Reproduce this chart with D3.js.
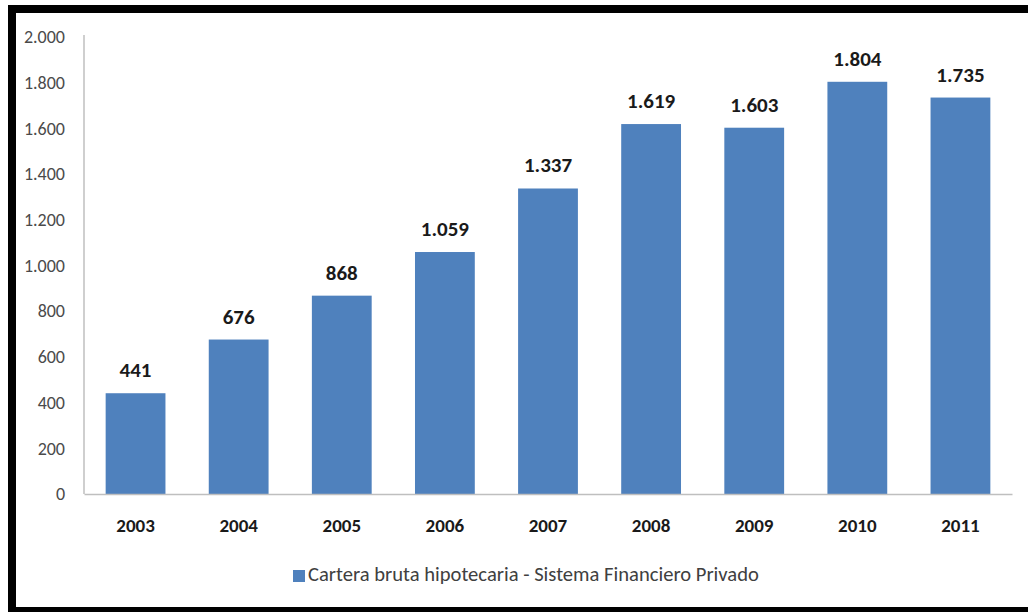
<!DOCTYPE html>
<html><head><meta charset="utf-8">
<script src="https://cdn.jsdelivr.net/npm/d3@7"></script>
<style>body{margin:0;background:#fff}svg{display:block}text{font-family:Carlito,Lato,"Open Sans",sans-serif}</style>
</head><body><svg id="c" width="1028" height="612"></svg>
<script>
const years = ["2003","2004","2005","2006","2007","2008","2009","2010","2011"];
const values = [441,676,868,1059,1337,1619,1603,1804,1735];
const yTicks = [0,200,400,600,800,1000,1200,1400,1600,1800,2000];
const seriesName = "Cartera bruta hipotecaria - Sistema Financiero Privado";

const svg = d3.select("#c");
const loc = d3.formatLocale({decimal:",", thousands:".", grouping:[3], currency:["",""]});
const fmt = loc.format(",d");

// frame
svg.append("rect").attr("x",0).attr("y",0).attr("width",1028).attr("height",612).attr("fill","#fff");
svg.append("rect").attr("x",8).attr("y",5).attr("width",1028).attr("height",8).attr("fill","#000");
svg.append("rect").attr("x",8).attr("y",5).attr("width",8).attr("height",607).attr("fill","#000");
svg.append("rect").attr("x",8).attr("y",607).attr("width",1028).attr("height",5).attr("fill","#000");

const x = d3.scaleBand().domain(years).range([84,1012]).paddingInner(0.42).paddingOuter(0.21);
const y = d3.scaleLinear().domain([0,2000]).range([494,37]);

// bars
svg.append("g").selectAll("rect").data(values).join("rect")
  .attr("x",(d,i)=>x(years[i])).attr("width",x.bandwidth())
  .attr("y",d=>y(d)).attr("height",d=>y(0)-y(d))
  .attr("fill","#4f81bd");

// y axis
const ya = svg.append("g").attr("transform","translate(84,0)")
  .call(d3.axisLeft(y).tickValues(yTicks).tickFormat(fmt).tickSize(0).tickPadding(19));
ya.select(".domain").attr("stroke","#bfbfbf").attr("stroke-width",1.5).attr("d","M0,35V494");
ya.selectAll("text").attr("font-size",18).attr("fill","#4a4a4a").attr("font-family","Carlito,Lato,sans-serif");

// x axis
const xa = svg.append("g").attr("transform","translate(0,494)")
  .call(d3.axisBottom(x).tickSize(0).tickPadding(25));
xa.select(".domain").attr("stroke","#bfbfbf").attr("stroke-width",1.5);
xa.selectAll("text").attr("font-size",19).attr("font-weight","bold").attr("fill","#1a1a1a").attr("font-family","Carlito,Lato,sans-serif");

// data labels
svg.append("g").selectAll("text").data(values).join("text")
  .attr("x",(d,i)=>x(years[i])+x.bandwidth()/2).attr("y",d=>y(d)-16)
  .attr("text-anchor","middle").attr("font-size",21).attr("font-weight","bold").attr("fill","#1a1a1a")
  .text(d=>fmt(d));

// legend
svg.append("rect").attr("x",293).attr("y",570).attr("width",12).attr("height",12).attr("fill","#4f81bd");
svg.append("text").attr("x",308).attr("y",581).attr("font-size",20.6).attr("fill","#404040").text(seriesName);
</script></body></html>
